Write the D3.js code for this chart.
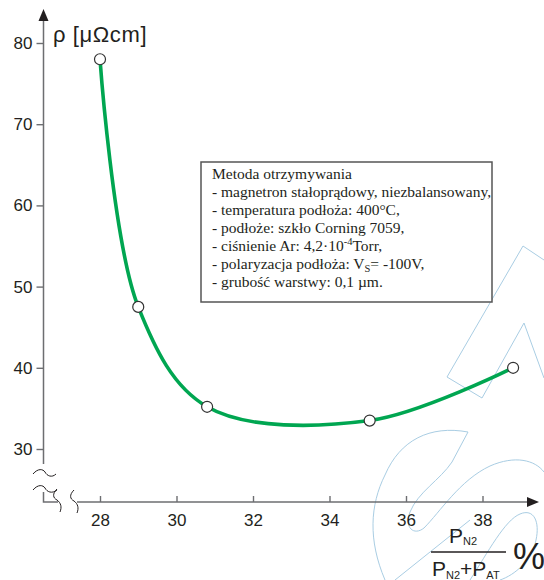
<!DOCTYPE html>
<html>
<head>
<meta charset="utf-8">
<script src="https://cdn.jsdelivr.net/npm/d3@7"></script>
<style>
  body { margin: 0; background: #fff; }
  svg { display: block; }
  .tick text { font-family: "Liberation Sans", Arial, sans-serif; font-size: 17px; fill: #231f20; }
  .tick line { stroke: #6d6e71; stroke-width: 1.4; }
</style>
</head>
<body>
<div id="chart"></div>
<script>
// data
var xs = [28.0, 29.0, 30.8, 35.05, 38.8];      // PN2/(PN2+PAr) %
var rho = [78.0, 47.5, 35.2, 33.5, 40.0];      // resistivity, µΩcm
var xTicks = [28, 30, 32, 34, 36, 38];
var yTicks = [30, 40, 50, 60, 70, 80];
var legendLines = [
  "Metoda otrzymywania",
  "- magnetron stałoprądowy, niezbalansowany,",
  "- temperatura podłoża: 400°C,",
  "- podłoże: szkło Corning 7059,",
  "- ciśnienie Ar: 4,2·10^{-4}Torr,",
  "- polaryzacja podłoża: V_{S}= -100V,",
  "- grubość warstwy: 0,1 µm."
];

var W = 544, H = 580;
var axisCol = "#6d6e71", ink = "#231f20", green = "#00a651";

var svg = d3.select("#chart").append("svg")
    .attr("width", W).attr("height", H);

// scales
var x = d3.scaleLinear().domain([28, 38]).range([100, 482.5]);
var y = d3.scaleLinear().domain([30, 80]).range([449, 43]);
var x0 = 43.5, y0 = 502;

// faint logo in the background
var wm = svg.append("g").attr("fill", "none").attr("stroke", "#a9cde3").attr("stroke-width", 1);
wm.append("path").attr("d", "M544,260 L523,246 L447,377 L482,398 L524,323 L544,378");
wm.append("path").attr("d", "M468,432 L452,462 C440,480 418,492 410,512 C404,528 414,536 424,528 C440,512 460,480 490,466 C515,455 535,460 544,472");
wm.append("path").attr("d", "M468,432 C430,425 400,440 385,475 C370,505 368,540 385,580");
wm.append("path").attr("d", "M470,580 C488,552 505,520 520,514 C534,508 540,522 536,540 C532,560 515,575 500,580");
wm.append("path").attr("d", "M395,580 C420,560 445,540 470,520");

// axes lines
var ax = svg.append("g").attr("stroke", axisCol).attr("stroke-width", 1.5).attr("fill", "none");
ax.append("line").attr("x1", x0).attr("x2", x0).attr("y1", 20).attr("y2", 464);
ax.append("polyline").attr("points", [[x0, 492], [x0, y0], [58, y0]].join(" "));
ax.append("line").attr("x1", 77).attr("x2", 528).attr("y1", y0).attr("y2", y0);
svg.append("path").attr("fill", ink)
  .attr("d", "M" + x0 + ",9 L" + (x0 - 5) + ",21 L" + (x0 + 5) + ",21 Z");
svg.append("path").attr("fill", ink)
  .attr("d", "M539," + y0 + " L527," + (y0 - 5) + " L527," + (y0 + 5) + " Z");

// axis break marks
var br = svg.append("g").attr("stroke", ink).attr("stroke-width", 1).attr("fill", "none");
br.append("path").attr("d", "M33,474 C38,468 43,469 45,472 C47,476 52,478 56,474");
br.append("path").attr("d", "M33,490 C38,484 43,485 45,488 C47,492 52,494 57,490");
br.append("path").attr("d", "M57,489 C52,494 53,498 57,500 C61,503 62,507 60,512");
br.append("path").attr("d", "M74,490 C69,495 70,499 74,501 C78,504 79,508 77,513");

// ticks
svg.append("g").attr("transform", "translate(0," + y0 + ")")
  .call(d3.axisBottom(x).tickValues(xTicks).tickSize(-6).tickPadding(12))
  .call(function(g) { g.select(".domain").remove(); });
svg.append("g").attr("transform", "translate(" + x0 + ",0)")
  .call(d3.axisLeft(y).tickValues(yTicks).tickSize(7).tickPadding(4))
  .call(function(g) { g.select(".domain").remove(); });

// y title
svg.append("text").attr("x", 53).attr("y", 42)
  .attr("font-family", "Liberation Sans, Arial, sans-serif").attr("font-size", 22)
  .attr("letter-spacing", 0.6).attr("fill", ink).text("ρ [μΩcm]");

// curve
var pts = xs.map(function(v, i) { return [v, rho[i]]; });
var line = d3.line()
  .x(function(d) { return x(d[0]); })
  .y(function(d) { return y(d[1]); })
  .curve(d3.curveCatmullRom.alpha(0.5));
svg.append("path").attr("d", line(pts))
  .attr("fill", "none").attr("stroke", green).attr("stroke-width", 3.6);
svg.selectAll("circle.pt").data(pts).enter().append("circle")
  .attr("class", "pt")
  .attr("cx", function(d) { return x(d[0]); })
  .attr("cy", function(d) { return y(d[1]); })
  .attr("r", 5.5).attr("fill", "#fff").attr("stroke", "#333").attr("stroke-width", 1.2);

// legend box
svg.append("rect").attr("x", 201).attr("y", 162).attr("width", 291).attr("height", 140)
  .attr("fill", "#fff").attr("stroke", "#555").attr("stroke-width", 1.5);
var lg = svg.append("text").attr("font-family", "Liberation Serif, Times New Roman, serif")
  .attr("font-size", 15.5).attr("fill", ink);
legendLines.forEach(function(s, i) {
  var t = lg.append("tspan").attr("x", 212).attr("y", 179 + i * 18);
  var parts = s.split(/(\^\{[^}]*\}|_\{[^}]*\})/);
  var back = 0;
  parts.forEach(function(p) {
    if (!p) return;
    if (p[0] === "^") {
      t.append("tspan").attr("font-size", 10.5).attr("dy", -6).text(p.slice(2, -1));
      back = 6;
    } else if (p[0] === "_") {
      t.append("tspan").attr("font-size", 10.5).attr("dy", 3).text(p.slice(2, -1));
      back = -3;
    } else {
      t.append("tspan").attr("dy", back).text(p);
      back = 0;
    }
  });
});

// x title (fraction)
var ff = "Liberation Sans, Arial, sans-serif";
var num = svg.append("text").attr("font-family", ff).attr("fill", ink)
  .attr("x", 449).attr("y", 543).attr("font-size", 21);
num.append("tspan").text("P");
num.append("tspan").attr("font-size", 11).attr("dy", 2).text("N2");
svg.append("line").attr("x1", 431).attr("x2", 506).attr("y1", 552).attr("y2", 552)
  .attr("stroke", ink).attr("stroke-width", 1.3);
var den = svg.append("text").attr("font-family", ff).attr("fill", ink)
  .attr("x", 432).attr("y", 576).attr("font-size", 21);
den.append("tspan").text("P");
den.append("tspan").attr("font-size", 11).attr("dy", 3).text("N2");
den.append("tspan").attr("dy", -3).text("+P");
den.append("tspan").attr("font-size", 11).attr("dy", 3).text("AT");
svg.append("text").attr("font-family", ff).attr("fill", ink)
  .attr("x", 513).attr("y", 569).attr("font-size", 36).text("%");
</script>
</body>
</html>
